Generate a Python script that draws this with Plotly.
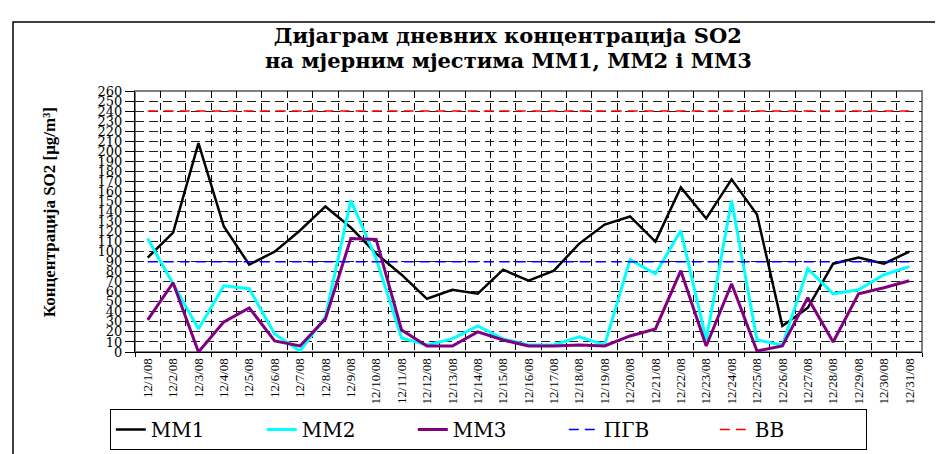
# Daily SO2 concentrations at measuring points MM1, MM2, MM3 (December 2008)
import plotly.graph_objects as go

dates = [f"12/{d}/08" for d in range(1, 32)]

mm1 = [94, 119, 208, 125, 87, 100, 121, 145, 124, 98, 77, 53, 62, 58, 82, 71,
       81, 108, 127, 135, 110, 164, 133, 172, 137, 26, 44, 88, 94, 88, 100]
mm2 = [113, 68, 23, 66, 63, 18, 1, 35, 151, 93, 14, 7, 13, 26, 13, 7,
       7, 15, 7, 92, 78, 121, 12, 151, 12, 7, 83, 58, 62, 77, 85]
mm3 = [32, 69, 0, 30, 44, 11, 6, 33, 113, 112, 22, 6, 6, 20, 12, 6,
       6, 7, 6, 16, 23, 81, 6, 68, 1, 6, 54, 10, 58, 64, 71]
pgv = [90] * len(dates)   # ПГВ limit
vv = [240] * len(dates)   # ВВ limit

SERIF = "Liberation Serif"
WIDE = "DejaVu Serif"   # the original is stretched sideways, a wider face fits better

fig = go.Figure()
fig.add_trace(go.Scatter(x=dates, y=mm1, name="MM1", mode="lines",
                         line=dict(color="black", width=2.5)))
fig.add_trace(go.Scatter(x=dates, y=mm2, name="MM2", mode="lines",
                         line=dict(color="#00FFFF", width=3)))
fig.add_trace(go.Scatter(x=dates, y=mm3, name="MM3", mode="lines",
                         line=dict(color="#800080", width=3)))
fig.add_trace(go.Scatter(x=dates, y=pgv, name="ПГВ", mode="lines",
                         line=dict(color="#0000FF", width=1.5, dash="10px,6px")))
fig.add_trace(go.Scatter(x=dates, y=vv, name="ВВ", mode="lines",
                         line=dict(color="#FF0000", width=1.5, dash="10px,6px")))

# plot area 127..914 x 83..363 px
fig.update_layout(
    width=943, height=454,
    margin=dict(l=127, r=29, t=83, b=91),
    paper_bgcolor="white", plot_bgcolor="white",
    font=dict(family=SERIF, color="black"),
    title=dict(text="<b>Дијаграм дневних концентрација SO2</b>",
               x=0.53, xanchor="center", y=0.938, yanchor="middle",
               font=dict(size=21, family=WIDE, color="black")),
    showlegend=True,
    legend=dict(orientation="h", x=-0.032, xanchor="left", y=-0.218, yanchor="top",
                bordercolor="black", borderwidth=1, bgcolor="white",
                font=dict(size=20, family=WIDE), entrywidth=106, entrywidthmode="pixels",
                tracegroupgap=0),
)
fig.add_annotation(text="<b>на мјерним мјестима MM1, MM2 і MM3</b>", xref="paper", yref="paper",
                   x=0.474, y=1.118, xanchor="center", yanchor="middle", showarrow=False,
                   font=dict(size=21, family=WIDE))

fig.update_xaxes(type="category", range=[-0.5, 30.5], tickson="boundaries",
                 ticks="outside", ticklen=4, tickcolor="black",
                 showline=True, linecolor="black", linewidth=1,
                 showgrid=True, gridcolor="black", gridwidth=1, griddash="7px,5px",
                 tickangle=-90, tickfont=dict(size=13, family=SERIF))
fig.update_yaxes(range=[0, 260], dtick=10, tick0=0,
                 ticks="outside", ticklen=9, tickcolor="black",
                 showline=True, linecolor="black", linewidth=1,
                 showgrid=True, gridcolor="#222", gridwidth=1, griddash="9px,5px",
                 zeroline=False, tickfont=dict(size=13, family=WIDE))

# gray frame on top/right of the plot area
fig.add_shape(type="rect", xref="paper", yref="paper", x0=0, x1=1, y0=0, y1=1,
              line=dict(color="#808080", width=2), layer="below")
# outer chart border
fig.add_shape(type="rect", xref="paper", yref="paper", x0=-0.155, x1=1.0305,
              y0=-0.4, y1=1.264, line=dict(color="black", width=1.5))

fig.add_annotation(text="<b>Концентрација SO2 [μg/m³]</b>", xref="paper", yref="paper",
                   x=-0.124, y=0.535, textangle=-90, showarrow=False,
                   font=dict(size=17, family=SERIF))

fig.write_html("out.html")
